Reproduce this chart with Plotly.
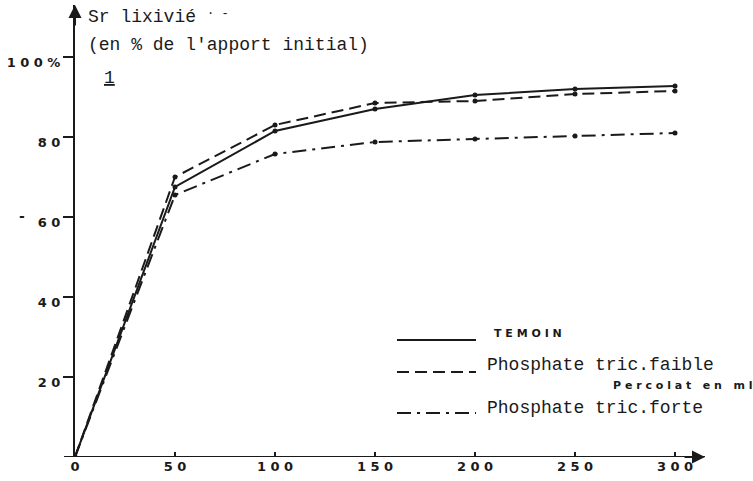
import plotly.graph_objects as go

# ---- data ----
volume_ml = [0, 50, 100, 150, 200, 250, 300]
temoin = [0, 67.5, 81.5, 87.0, 90.5, 92.0, 92.75]
phos_faible = [0, 70.0, 83.0, 88.5, 89.0, 90.75, 91.5]
phos_forte = [0, 65.5, 75.75, 78.75, 79.5, 80.25, 81.0]

x_tickvals = [0, 50, 100, 150, 200, 250, 300]
x_ticktext = ["0", "5 0", "1 0 0", "1 5 0", "2 0 0", "2 5 0", "3 0 0"]
y_tickvals = [20, 40, 60, 80, 100]
y_ticktext = ["2 0", "4 0", "6 0", "8 0", "1 0 0 %"]

series_names = ["TEMOIN", "Phosphate tric.faible", "Phosphate tric.forte"]
series_values = [temoin, phos_faible, phos_forte]
series_dash = ["solid", "12px,6px", "14px,6px,3px,6px"]

INK = "#1a1a1a"
MONO = "Liberation Mono"
SANSB = "DejaVu Sans"
NB = "\u00a0"

W, H = 753, 481
ML, MR, MT, MB = 75, 48, 5, 24
PW, PH = W - ML - MR, H - MT - MB


def px2paper_x(px):
    return (px - ML) / PW


def px2paper_y(py):
    return (H - MB - py) / PH


fig = go.Figure()
for name, vals, dash in zip(series_names, series_values, series_dash):
    fig.add_trace(go.Scatter(
        x=volume_ml, y=vals, name=name, mode="lines+markers",
        line=dict(color=INK, width=2, dash=dash),
        marker=dict(color=INK, size=5),
        showlegend=False,
    ))

shapes = []
annotations = []

# x axis line (extends a little left of origin)
shapes.append(dict(type="line", xref="paper", yref="y",
                   x0=px2paper_x(64), x1=1, y0=0, y1=0,
                   line=dict(color=INK, width=2)))

# arrow heads
annotations.append(dict(x=315, y=0, xref="x", yref="y", ax=-22, ay=0,
                        showarrow=True, arrowhead=2, arrowsize=1.3, arrowwidth=2,
                        arrowcolor=INK, text=""))
annotations.append(dict(x=0, y=113, xref="x", yref="y", ax=0, ay=22,
                        showarrow=True, arrowhead=2, arrowsize=1.3, arrowwidth=2,
                        arrowcolor=INK, text=""))

# titles
annotations.append(dict(xref="paper", yref="paper", x=px2paper_x(86), y=px2paper_y(17),
                        xanchor="left", yanchor="middle", showarrow=False,
                        text="Sr lixivié", font=dict(family=MONO, size=18, color=INK)))
annotations.append(dict(xref="paper", yref="paper", x=px2paper_x(205), y=px2paper_y(14),
                        xanchor="left", yanchor="middle", showarrow=False,
                        text="· -", font=dict(family=MONO, size=12, color=INK)))
annotations.append(dict(xref="paper", yref="paper", x=px2paper_x(86), y=px2paper_y(45),
                        xanchor="left", yanchor="middle", showarrow=False,
                        text="(en % de l'apport initial)", font=dict(family=MONO, size=18, color=INK)))
annotations.append(dict(xref="paper", yref="paper", x=px2paper_x(102), y=px2paper_y(78),
                        xanchor="left", yanchor="middle", showarrow=False,
                        text="<u>1</u>", font=dict(family=MONO, size=18, color=INK)))
percolat = " ".join("Percolat") + NB * 2 + " " + " ".join("en") + NB * 2 + " " + " ".join("ml")
annotations.append(dict(xref="paper", yref="paper", x=px2paper_x(611), y=px2paper_y(385),
                        xanchor="left", yanchor="middle", showarrow=False,
                        text=percolat,
                        font=dict(family=SANSB, size=11, color=INK, weight="bold")))
annotations.append(dict(xref="paper", yref="paper", x=px2paper_x(22), y=px2paper_y(216),
                        xanchor="center", yanchor="middle", showarrow=False,
                        text="-", font=dict(family=SANSB, size=14, color=INK, weight="bold")))

# custom legend
legend_rows = [(340, 333), (372, 365), (413, 408)]
legend_text_x = [492, 485, 485]
for (ly, ty), tx, name, dash in zip(legend_rows, legend_text_x, series_names, series_dash):
    shapes.append(dict(type="line", xref="paper", yref="paper",
                       x0=px2paper_x(397), x1=px2paper_x(476),
                       y0=px2paper_y(ly), y1=px2paper_y(ly),
                       line=dict(color=INK, width=2, dash=dash)))
    if name == "TEMOIN":
        txt = "T E M O I N"
        fnt = dict(family=SANSB, size=11, color=INK, weight="bold")
    else:
        txt = name
        fnt = dict(family=MONO, size=18, color=INK)
    annotations.append(dict(xref="paper", yref="paper", x=px2paper_x(tx), y=px2paper_y(ty),
                            xanchor="left", yanchor="middle", showarrow=False,
                            text=txt, font=fnt))

fig.update_layout(
    width=W, height=H,
    margin=dict(l=ML, r=MR, t=MT, b=MB, pad=0, autoexpand=False),
    paper_bgcolor="white", plot_bgcolor="white",
    shapes=shapes, annotations=annotations,
    showlegend=False,
    xaxis=dict(range=[0, 315], showgrid=False, zeroline=False, showline=False,
               automargin=False,
               tickmode="array", tickvals=x_tickvals, ticktext=x_ticktext,
               ticks="inside", ticklen=5, tickwidth=1.5, tickcolor=INK,
               tickfont=dict(family=SANSB, size=13, color=INK, weight="bold")),
    yaxis=dict(range=[0, 113], showgrid=False, zeroline=False, showline=True,
               automargin=False,
               linecolor=INK, linewidth=2,
               tickmode="array", tickvals=y_tickvals, ticktext=y_ticktext,
               ticks="outside", ticklen=10, tickwidth=1.5, tickcolor=INK,
               ticklabelshift=5, ticklabelstandoff=0,
               tickfont=dict(family=SANSB, size=13, color=INK, weight="bold")),
)

fig.write_html("out.html", config={"displayModeBar": False},
               post_script="document.body.style.margin='0';document.body.style.overflow='hidden';")
